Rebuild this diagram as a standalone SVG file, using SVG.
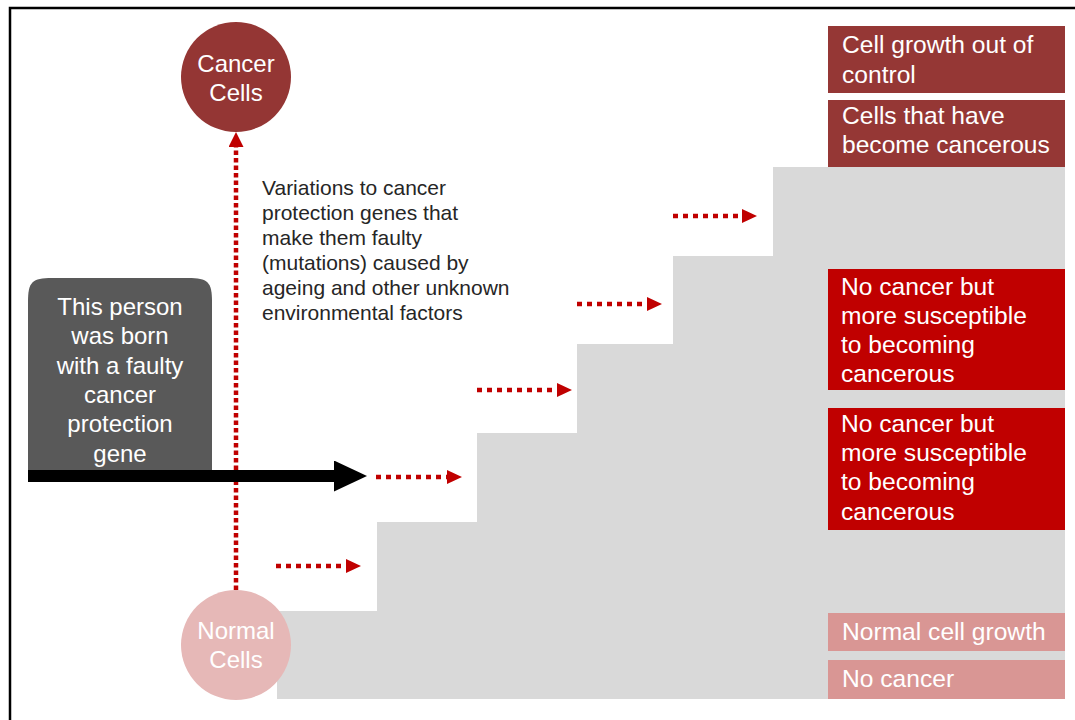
<svg xmlns="http://www.w3.org/2000/svg" width="1075" height="720" viewBox="0 0 1075 720">
<style>
  text { font-family: "Liberation Sans", Arial, sans-serif; }
  .w24 { fill: #ffffff; font-size: 24px; }
  .w245 { fill: #ffffff; font-size: 24.6px; }
  .dark21 { fill: #262626; font-size: 21px; }
  .mid { text-anchor: middle; }
  .redline { stroke: #c00000; stroke-width: 4.5; fill: none; stroke-dasharray: 5 5; }
  .vline { stroke: #c00000; stroke-width: 4.5; fill: none; stroke-dasharray: 4.5 3; }
</style>
<defs>
  <marker id="redhead" viewBox="0 0 15 14" refX="0" refY="7" markerWidth="15" markerHeight="14" markerUnits="userSpaceOnUse" orient="auto">
    <path d="M0,0 L15,7 L0,14 Z" fill="#c00000"/>
  </marker>
  <marker id="redheadV" viewBox="0 0 15 15" refX="0" refY="7.5" markerWidth="15" markerHeight="15" markerUnits="userSpaceOnUse" orient="auto">
    <path d="M0,0 L15,7.5 L0,15 Z" fill="#c00000"/>
  </marker>
  <marker id="blackhead" viewBox="0 0 33 31" refX="0" refY="15.5" markerWidth="33" markerHeight="31" markerUnits="userSpaceOnUse" orient="auto">
    <path d="M0,0 L33,15.5 L0,31 Z" fill="#000000"/>
  </marker>
</defs>
<rect width="1075" height="720" fill="#ffffff"/>
<path d="M10,720 L10,8 L1075,8" fill="none" stroke="#000000" stroke-width="2.5"/>

<g id="staircase">
  <polygon points="277,699 277,611 377,611 377,522 477,522 477,433 577,433 577,344 673,344 673,256 773,256 773,167 1065,167 1065,699" fill="#d9d9d9"/>
</g>

<g id="born-faulty">
  <path d="M28,470 L28,302 C28,282 32,278 52,278 L188,278 C208,278 212,282 212,302 L212,470 Z" fill="#595959"/>
  <text class="w24 mid" x="120" y="314.5">This person</text>
  <text class="w24 mid" x="120" y="344">was born</text>
  <text class="w24 mid" x="120" y="373.5">with a faulty</text>
  <text class="w24 mid" x="120" y="403">cancer</text>
  <text class="w24 mid" x="120" y="432">protection</text>
  <text class="w24 mid" x="120" y="461.5">gene</text>
</g>

<g id="variations-label">
  <text class="dark21" x="262" y="195">Variations to cancer</text>
  <text class="dark21" x="262" y="220">protection genes that</text>
  <text class="dark21" x="262" y="245">make them faulty</text>
  <text class="dark21" x="262" y="270">(mutations) caused by</text>
  <text class="dark21" x="262" y="295">ageing and other unknown</text>
  <text class="dark21" x="262" y="320">environmental factors</text>
</g>

<g id="connectors">
  <line class="vline" x1="236" y1="590" x2="236" y2="147" marker-end="url(#redheadV)"/>
  <line x1="28" y1="476" x2="334" y2="476" stroke="#000000" stroke-width="12" marker-end="url(#blackhead)"/>
  <line class="redline" x1="276" y1="566" x2="346" y2="566" marker-end="url(#redhead)"/>
  <line class="redline" x1="376" y1="477" x2="447" y2="477" marker-end="url(#redhead)"/>
  <line class="redline" x1="477" y1="390" x2="557" y2="390" marker-end="url(#redhead)"/>
  <line class="redline" x1="577" y1="304" x2="647" y2="304" marker-end="url(#redhead)"/>
  <line class="redline" x1="673" y1="216" x2="742" y2="216" marker-end="url(#redhead)"/>
</g>

<g id="cancer-cells">
  <circle cx="236" cy="77" r="55" fill="#943634"/>
  <text class="w24 mid" x="236" y="72">Cancer</text>
  <text class="w24 mid" x="236" y="101">Cells</text>
</g>

<g id="normal-cells">
  <circle cx="236" cy="645" r="55" fill="#e6b8b7"/>
  <text class="w24 mid" x="236" y="639">Normal</text>
  <text class="w24 mid" x="236" y="668">Cells</text>
</g>

<g id="box-out-of-control">
  <rect x="828" y="26" width="237" height="67" fill="#953735"/>
  <text class="w245" x="842" y="53">Cell growth out of</text>
  <text class="w245" x="842" y="82.5">control</text>
</g>
<g id="box-cancerous">
  <rect x="828" y="100" width="237" height="67" fill="#953735"/>
  <text class="w245" x="842" y="124">Cells that have</text>
  <text class="w245" x="842" y="153">become cancerous</text>
</g>
<g id="box-susceptible-1">
  <rect x="828" y="269" width="237" height="121" fill="#c00000"/>
  <text class="w245" x="841" y="294.5">No cancer but</text>
  <text class="w245" x="841" y="323.5">more susceptible</text>
  <text class="w245" x="841" y="352.5">to becoming</text>
  <text class="w245" x="841" y="382">cancerous</text>
</g>
<g id="box-susceptible-2">
  <rect x="828" y="408" width="237" height="122" fill="#c00000"/>
  <text class="w245" x="841" y="432">No cancer but</text>
  <text class="w245" x="841" y="461">more susceptible</text>
  <text class="w245" x="841" y="490">to becoming</text>
  <text class="w245" x="841" y="519.5">cancerous</text>
</g>
<g id="box-normal-growth">
  <rect x="828" y="613" width="237" height="38" fill="#d99694"/>
  <text class="w245" x="842" y="640">Normal cell growth</text>
</g>
<g id="box-no-cancer">
  <rect x="828" y="660" width="237" height="39" fill="#d99694"/>
  <text class="w245" x="842" y="687">No cancer</text>
</g>
</svg>
